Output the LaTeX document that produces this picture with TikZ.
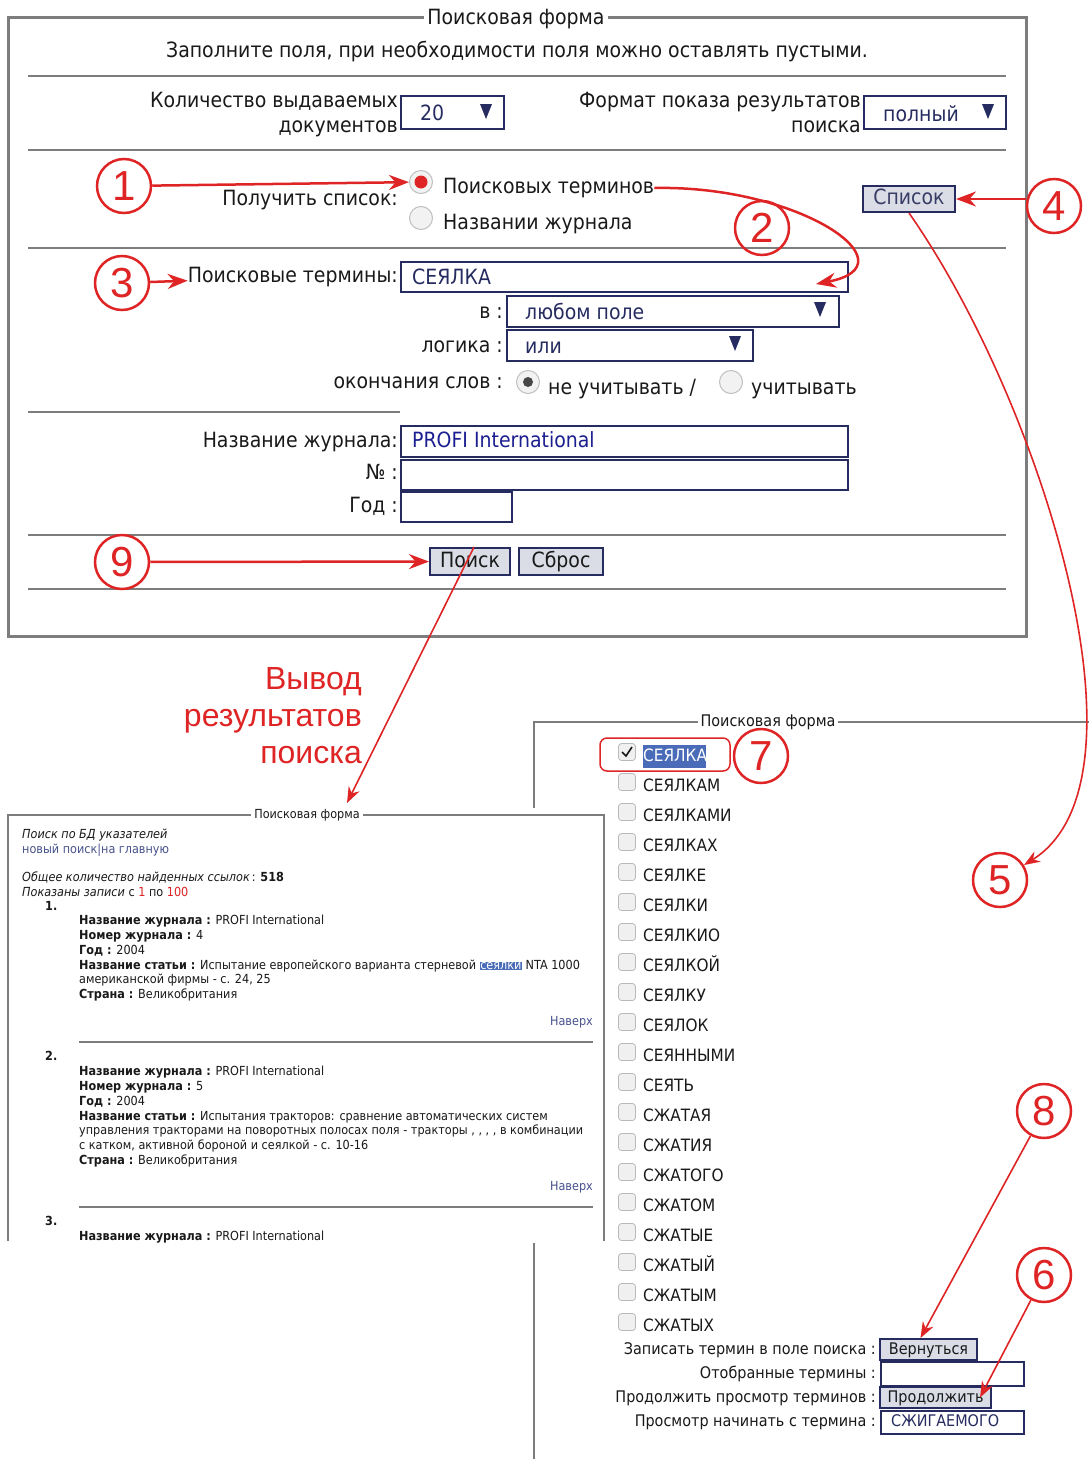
\documentclass[tikz,border=0pt]{standalone}
\usepackage{fontspec}
\setmainfont{DejaVu Sans}[FakeStretch=0.9]
\newfontfamily\numfont{Liberation Sans}
\usepackage{tikz}
\usetikzlibrary{calc}
\usetikzlibrary{arrows.meta}
\definecolor{callred}{RGB}{222,36,36}
\definecolor{navy}{RGB}{38,44,96}
\definecolor{framegray}{RGB}{125,125,125}
\definecolor{btn}{RGB}{218,220,230}
\definecolor{link}{RGB}{72,82,140}
\definecolor{sel}{RGB}{74,108,184}
\definecolor{ink}{RGB}{25,25,25}
\newcommand{\hlsel}[1]{{\setlength{\fboxsep}{0.6pt}\colorbox{sel}{\textcolor{white}{#1}}}}
\tikzset{
  ui/.style={font=\fontsize{21}{25}\selectfont, text=ink, inner sep=0, text height=15pt, text depth=4pt},
  low/.style={font=\fontsize{16}{19}\selectfont, text=ink, inner sep=0, text height=12pt, text depth=3pt},
  term/.style={font=\fontsize{17}{20}\selectfont, text=ink, inner sep=0, anchor=west, text height=13pt, text depth=3pt},
  small/.style={font=\fontsize{12.5}{14.8}\selectfont, text=ink, inner sep=0, align=left},
  box/.style={draw=navy, line width=2pt, fill=white, inner sep=0},
  btnbox/.style={draw=navy, line width=2pt, fill=btn, inner sep=0, text=navy!80!gray},
  num/.style={circle, draw=callred, line width=2.5pt, minimum size=54pt, inner sep=0, text=callred, font=\numfont\fontsize{42}{42}\selectfont},
  callout/.style={draw=callred, line width=2.5pt, -{Stealth[length=20pt,width=15pt]}},
  thinout/.style={draw=callred, line width=1.6pt, -{Stealth[length=16pt,width=12pt]}},
  rule/.style={draw=framegray, line width=1.5pt},
  radio/.style={circle, draw=gray!50, fill=gray!10, line width=1pt, minimum size=23pt, inner sep=0},
  chk/.style={draw=gray!55, fill=gray!12, rounded corners=3pt, minimum size=17pt, inner sep=0, line width=0.8pt}
}
\begin{document}
\begin{tikzpicture}[x=1pt, y=-1pt]
\useasboundingbox (0,0) rectangle (1089,1459);
\draw[framegray, line width=3pt] (8,17) rectangle (1026,636);
\node[ui, fill=white, inner xsep=3pt] (form1) at (516,19) {Поисковая форма};
\node[ui] (hint) at (517,52) {Заполните поля, при необходимости поля можно оставлять пустыми.};
\foreach \y in {76,150,248,535,589} {
 \draw[rule] (28,\y) -- (1006,\y);
}
\draw[rule] (28,412) -- (400,412);

\node[ui, anchor=east] (qty1) at (398,102) {Количество выдаваемых};
\node[ui, anchor=east] (qty2) at (398,127) {документов};
\node[box, minimum width=103pt, minimum height=33pt, anchor=west] (qty) at (400,112.5) {};
\node[ui, anchor=west, text=navy] (qtyv) at (420,115) {20};
\node[ui, anchor=east] (fmt1) at (861,102) {Формат показа результатов};
\node[ui, anchor=east] (fmt2) at (861,127) {поиска};
\node[box, minimum width=142pt, minimum height=33pt, anchor=west] (fmt) at (863,112.5) {};
\node[ui, anchor=west, text=navy] (fmtv) at (883,116) {полный};

\node[num] (m1) at (124,186) {1};
\node[ui, anchor=east] (getlbl) at (398,200) {Получить список:};
\node[radio] (r1) at (421,182) {};
\fill[callred] (r1) circle (6.5);
\node[radio] (r2) at (421,218) {};
\node[ui, anchor=west] (opt1) at (443,188) {Поисковых терминов};
\node[ui, anchor=west] (opt2) at (443,224) {Названии журнала};
\node[btnbox, ui, minimum width=92pt, minimum height=26pt, text=navy!80!gray] (listbtn) at (909,199) {Список};
\node[num] (m4) at (1054,206) {4};
\node[num] (m2) at (762,228) {2};

\node[num] (m3) at (122,283) {3};
\node[ui, anchor=east] (termlbl) at (398,277) {Поисковые термины:};
\node[box, minimum width=447pt, minimum height=30pt, anchor=west] (termf) at (400,276.5) {};
\node[ui, anchor=west, text=navy] (termv) at (412,279) {СЕЯЛКА};
\coordinate (tip2) at (816,284);
\node[ui, anchor=east] (inlbl) at (503,313) {в :};
\node[box, minimum width=332pt, minimum height=31pt, anchor=west] (inf) at (506,311.5) {};
\node[ui, anchor=west, text=navy] (inv) at (525,314) {любом поле};
\node[ui, anchor=east] (loglbl) at (503,347) {логика :};
\node[box, minimum width=246pt, minimum height=31pt, anchor=west] (logf) at (506,345.5) {};
\node[ui, anchor=west, text=navy] (logv) at (525,348) {или};
\foreach \x/\y in {486/112, 988/112, 820/310, 735/344} {
 \fill[navy] (\x-6,\y-8) -- (\x+6,\y-8) -- (\x,\y+7) -- cycle;
}
\node[ui, anchor=east] (endlbl) at (503,383) {окончания слов :};
\node[radio] (r3) at (528,382) {};
\fill[ink!80] (r3) circle (5);
\node[ui, anchor=west] (endno) at (548,389) {не учитывать /};
\node[radio] (r4) at (731,382) {};
\node[ui, anchor=west] (endyes) at (751,389) {учитывать};

\node[ui, anchor=east] (jlbl) at (398,442) {Название журнала:};
\node[box, minimum width=447pt, minimum height=31pt, anchor=west] (jf) at (400,441.5) {};
\node[ui, anchor=west, text=navy!70!blue] (jv) at (412,442) {PROFI International};
\node[ui, anchor=east] (nolbl) at (398,474) {№ :};
\node[box, minimum width=447pt, minimum height=30pt, anchor=west] (nof) at (400,475) {};
\node[ui, anchor=east] (ylbl) at (398,507) {Год :};
\node[box, minimum width=111pt, minimum height=30pt, anchor=west] (yf) at (400,507) {};

\node[num] (m9) at (122,562) {9};
\node[btnbox, ui, minimum width=80pt, minimum height=27pt] (search) at (470,561.5) {Поиск};
\node[btnbox, ui, minimum width=84pt, minimum height=27pt] (reset) at (561,561.5) {Сброс};

\draw[framegray, line width=2pt] (1089,722) -- (534,722) -- (534,1459);
\node[low, fill=white, inner xsep=3pt] (form3) at (768,722) {Поисковая форма};
\foreach \i in {1,...,20} {
 \node[chk] (b\i) at (627,722+30*\i) {};
}
\draw[ink, line width=1.6pt] ($(b1)+(-5,0)$) -- ($(b1)+(-1,4)$) -- ($(b1)+(5,-5)$);
\fill[sel] (643,745) rectangle (706,768);
\node[term, text=white] (t1) at (643,756) {СЕЯЛКА};
\foreach \t [count=\i from 2] in {СЕЯЛКАМ, СЕЯЛКАМИ, СЕЯЛКАХ, СЕЯЛКЕ, СЕЯЛКИ, СЕЯЛКИО, СЕЯЛКОЙ, СЕЯЛКУ, СЕЯЛОК, СЕЯННЫМИ, СЕЯТЬ, СЖАТАЯ, СЖАТИЯ, СЖАТОГО, СЖАТОМ, СЖАТЫЕ, СЖАТЫЙ, СЖАТЫМ, СЖАТЫХ} {
 \node[term] (t\i) at (643,726+30*\i) {\t};
}
\draw[callred, line width=1.5pt, rounded corners=7pt] (600,738) rectangle (730,771);
\node[num] (m7) at (761,756) {7};

\node[low, anchor=east] (backlbl) at (876,1350) {Записать термин в поле поиска :};
\node[btnbox, low, minimum width=97pt, minimum height=21pt] (backbtn) at (928.5,1349.5) {Вернуться};
\node[low, anchor=east] (pickedlbl) at (876,1374) {Отобранные термины :};
\node[box, minimum width=143pt, minimum height=24pt, anchor=west] (pickedf) at (880,1374) {};
\node[low, anchor=east] (contlbl) at (876,1398) {Продолжить просмотр терминов :};
\node[btnbox, low, minimum width=111pt, minimum height=21pt] (contbtn) at (935.5,1397.5) {Продолжить};
\node[low, anchor=east] (startlbl) at (876,1422) {Просмотр начинать с термина :};
\node[box, minimum width=143pt, minimum height=23pt, anchor=west] (startf) at (880,1422) {};
\node[low, anchor=west, text=navy] (startv) at (891,1422) {СЖИГАЕМОГО};

\fill[white] (0,808) rectangle (612,1243);
\draw[framegray, line width=2pt] (8,1241) -- (8,815) -- (604,815) -- (604,1241);
\node[small, fill=white, inner xsep=3pt] (form2) at (307,815) {Поисковая форма};
\node[small, anchor=base west] (hdr1) at (22,838) {\textit{Поиск по БД указателей}};
\node[small, anchor=base west, text=link] (hdr2) at (22,853) {новый поиск|на главную};
\node[small, anchor=base west] (total) at (22,881) {\textit{Общее количество найденных ссылок}\,: \textbf{518}};
\node[small, anchor=base west] (shown) at (22,896) {\textit{Показаны записи} с \textcolor{callred}{1} по \textcolor{callred}{100}};
\node[small, anchor=base west] (rec1) at (45,910) {\textbf{1.}};
\node[small, anchor=north west] (rec1t) at (79,915) {\textbf{Название журнала :} PROFI International\\
\textbf{Номер журнала :} 4\\
\textbf{Год :} 2004\\
\textbf{Название статьи :} Испытание европейского варианта стерневой \hlsel{сеялки} NTA 1000\\
американской фирмы - с. 24, 25\\
\textbf{Страна :} Великобритания};
\node[small, anchor=base east, text=link] (top1) at (593,1025) {Наверх};
\draw[rule] (79,1042) -- (593,1042);
\node[small, anchor=base west] (rec2) at (45,1060) {\textbf{2.}};
\node[small, anchor=north west] (rec2t) at (79,1066) {\textbf{Название журнала :} PROFI International\\
\textbf{Номер журнала :} 5\\
\textbf{Год :} 2004\\
\textbf{Название статьи :} Испытания тракторов: сравнение автоматических систем\\
управления тракторами на поворотных полосах поля - тракторы , , , , в комбинации\\
с катком, активной бороной и сеялкой - с. 10-16\\
\textbf{Страна :} Великобритания};
\node[small, anchor=base east, text=link] (top2) at (593,1190) {Наверх};
\draw[rule] (79,1207) -- (593,1207);
\node[small, anchor=base west] (rec3) at (45,1225) {\textbf{3.}};
\node[small, anchor=base west] (rec3t) at (79,1240) {\textbf{Название журнала :} PROFI International};

\node[align=right, anchor=north east, inner sep=0, text=callred, font=\numfont\fontsize{32}{37}\selectfont] (outlbl) at (362,667) {Вывод\\результатов\\поиска};
\coordinate (outtip) at (347,803);

\node[num] (m5) at (1000,880) {5};
\node[num] (m8) at (1044,1111) {8};
\node[num] (m6) at (1044,1275) {6};

\draw[callout] (m1) -- (r1);
\draw[callout] (m4.west |- listbtn.east) -- (listbtn);
\draw[callout] (opt1.east) .. controls (800,185) and (915,265) .. (tip2);
\draw[callout] (m3) -- (termlbl);
\draw[callout] (m9) -- (search);
\draw[thinout] ($(search.north)+(4,0)$) -- (outtip);
\draw[thinout] (listbtn.south) .. controls (1040,400) and (1160,780) .. (m5);
\draw[thinout] (m8) -- ($(backbtn.north)+(-8,0)$);
\draw[thinout] (m6) -- ($(contbtn.east)+(-12,0)$);
\end{tikzpicture}
\end{document}
